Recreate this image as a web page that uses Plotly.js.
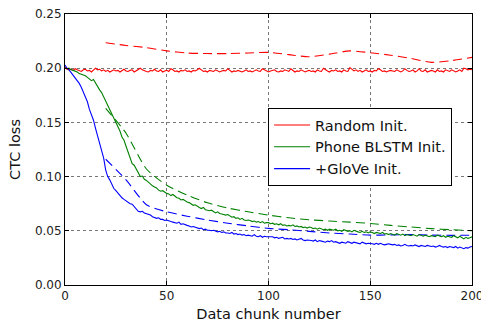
<!DOCTYPE html>
<html>
<head>
<meta charset="utf-8">
<script src="https://cdn.plot.ly/plotly-3.0.1.min.js"></script>
<style>html,body{margin:0;padding:0;background:#fff;}#chart{width:481px;height:323px;}</style>
</head>
<body>
<div id="chart"></div>
<script>
// x positions of the training curves (data chunk number 0..200)
const chunkX = Array.from({length: 201}, (_, i) => i);
// x positions of the dashed (evaluation) curves
const evalX = [20, 30, 40, 50, 60, 70, 80, 90, 100, 110, 120, 130, 140, 150, 160, 170, 180, 190, 200];

const seriesNames = ["Random Init.", "Phone BLSTM Init.", "+GloVe Init."];

const randomTrain = [
0.201,0.199,0.1985,0.199,0.198,0.1995,0.1985,0.198,0.197,0.1985,
0.199,0.1975,0.198,0.1965,0.1985,0.200,0.1985,0.199,0.1975,0.1985,
0.197,0.198,0.1965,0.1975,0.1985,0.1975,0.198,0.1965,0.1975,0.199,
0.1975,0.197,0.198,0.1985,0.1965,0.1975,0.199,0.200,0.1985,0.1975,
0.197,0.1965,0.198,0.1975,0.199,0.1975,0.197,0.1985,0.1965,0.1975,
0.198,0.197,0.1995,0.1985,0.197,0.1975,0.1965,0.198,0.1975,0.1985,
0.197,0.1975,0.1965,0.198,0.1975,0.1985,0.200,0.1985,0.197,0.1975,
0.1965,0.198,0.1975,0.197,0.1985,0.1975,0.1965,0.1975,0.198,0.1975,
0.1995,0.198,0.1965,0.1975,0.197,0.198,0.1975,0.1965,0.1975,0.1985,
0.197,0.1975,0.1965,0.1975,0.1985,0.1975,0.197,0.1995,0.1985,0.1975,
0.1965,0.1975,0.198,0.1985,0.197,0.1965,0.1975,0.197,0.1985,0.1975,
0.197,0.1995,0.198,0.1965,0.1975,0.197,0.1985,0.1975,0.1965,0.1975,
0.198,0.197,0.1975,0.1965,0.1985,0.1975,0.197,0.200,0.1985,0.1975,
0.1965,0.198,0.1975,0.1985,0.197,0.1975,0.1965,0.1985,0.1975,0.197,
0.2005,0.199,0.1975,0.1985,0.197,0.198,0.1965,0.1975,0.1985,0.197,
0.1975,0.1965,0.198,0.1975,0.1995,0.1985,0.197,0.1975,0.1965,0.1975,
0.198,0.1975,0.197,0.1985,0.1975,0.1965,0.1975,0.1995,0.198,0.197,
0.1975,0.1985,0.1965,0.1975,0.1995,0.1975,0.197,0.1985,0.1965,0.1975,
0.198,0.1975,0.1965,0.1985,0.197,0.1975,0.1965,0.1985,0.1975,0.197,
0.1985,0.1975,0.1965,0.1975,0.1985,0.197,0.200,0.1995,0.1985,0.199,0.1985];

const phoneTrain = [
0.200,0.1995,0.200,0.1985,0.198,0.1975,0.1965,0.195,0.1945,0.1935,
0.193,0.1915,0.190,0.1885,0.1895,0.186,0.1835,0.180,0.1775,0.1735,
0.1705,0.166,0.1625,0.157,0.1535,0.150,0.1455,0.142,0.1365,0.1335,
0.128,0.122,0.1175,0.112,0.1105,0.1065,0.1035,0.100,0.1005,0.0975,
0.0965,0.0945,0.0925,0.0915,0.0905,0.0895,0.0875,0.0865,0.087,0.0855,
0.0845,0.084,0.0825,0.0835,0.0815,0.0805,0.080,0.0785,0.079,0.0775,
0.0765,0.076,0.0745,0.0735,0.074,0.0725,0.0715,0.0705,0.0715,0.0695,
0.069,0.0685,0.069,0.0675,0.0665,0.0675,0.066,0.0655,0.065,0.0645,
0.065,0.0635,0.0625,0.063,0.0615,0.062,0.0605,0.0615,0.060,0.0595,
0.060,0.0595,0.0585,0.059,0.058,0.0585,0.0575,0.0585,0.057,0.0575,
0.0575,0.0565,0.057,0.056,0.0565,0.0555,0.0565,0.055,0.0555,0.0545,
0.055,0.0545,0.0555,0.054,0.0545,0.0535,0.054,0.053,0.0535,0.0525,
0.0535,0.053,0.052,0.0525,0.0515,0.0525,0.052,0.051,0.0515,0.0505,
0.0515,0.051,0.0505,0.0515,0.050,0.0505,0.0495,0.051,0.050,0.0495,
0.050,0.049,0.0505,0.0495,0.049,0.0485,0.0495,0.0485,0.049,0.048,
0.049,0.0485,0.0475,0.0485,0.048,0.0475,0.0485,0.047,0.0475,0.0465,
0.0475,0.047,0.046,0.0475,0.0465,0.046,0.047,0.0455,0.0465,0.046,
0.0455,0.0465,0.0455,0.045,0.0465,0.0455,0.045,0.046,0.045,0.0445,
0.0455,0.045,0.0445,0.046,0.045,0.0445,0.0455,0.044,0.045,0.0445,
0.044,0.0455,0.0445,0.0435,0.045,0.0435,0.0425,0.044,0.043,0.0435,0.0445];

const gloveTrain = [
0.203,0.200,0.1985,0.196,0.1945,0.192,0.189,0.186,0.1825,0.178,
0.174,0.169,0.162,0.157,0.152,0.1445,0.138,0.1295,0.1245,0.117,
0.106,0.100,0.097,0.093,0.089,0.087,0.0845,0.082,0.0805,0.079,
0.0775,0.0765,0.075,0.0745,0.0725,0.071,0.068,0.0675,0.068,0.0665,
0.066,0.065,0.0645,0.063,0.0625,0.0615,0.062,0.0605,0.0605,0.0595,
0.060,0.059,0.0585,0.058,0.0575,0.057,0.058,0.056,0.0565,0.0555,
0.055,0.0545,0.0535,0.054,0.0535,0.0525,0.052,0.0525,0.051,0.0515,
0.0505,0.0505,0.050,0.0505,0.0495,0.049,0.0495,0.0485,0.049,0.048,
0.048,0.0475,0.0485,0.047,0.0475,0.0465,0.047,0.046,0.0465,0.0455,
0.046,0.0455,0.045,0.0465,0.045,0.0445,0.0455,0.044,0.045,0.0445,
0.0445,0.044,0.0445,0.0435,0.044,0.043,0.0435,0.044,0.0425,0.043,
0.0425,0.043,0.042,0.0425,0.0415,0.042,0.043,0.0415,0.041,0.0415,
0.0415,0.041,0.0405,0.0415,0.040,0.041,0.0405,0.040,0.0395,0.0405,
0.040,0.041,0.0395,0.040,0.0395,0.0385,0.0395,0.039,0.0385,0.040,
0.039,0.0385,0.0395,0.039,0.0385,0.038,0.0395,0.0385,0.038,0.0385,
0.0385,0.038,0.0375,0.0385,0.0375,0.0385,0.0375,0.037,0.0375,0.038,
0.0375,0.037,0.0375,0.0365,0.037,0.036,0.0365,0.0375,0.0365,0.036,
0.0365,0.036,0.037,0.036,0.0355,0.0365,0.036,0.0355,0.0365,0.036,
0.0355,0.036,0.035,0.0355,0.0365,0.0355,0.035,0.0355,0.0345,0.0355,
0.035,0.0345,0.0355,0.034,0.035,0.0345,0.0335,0.0345,0.034,0.035,0.0355];

const randomEval = [0.2235,0.221,0.219,0.216,0.214,0.2135,0.2135,0.214,0.2146,0.2125,0.2105,0.213,0.216,0.2143,0.212,0.209,0.2054,0.207,0.210];
const phoneEval  = [0.163,0.140,0.107,0.092,0.083,0.0758,0.071,0.0675,0.0645,0.062,0.0602,0.059,0.058,0.0568,0.055,0.0535,0.052,0.051,0.050];
const gloveEval  = [0.116,0.097,0.074,0.0675,0.0635,0.060,0.057,0.0545,0.0522,0.051,0.0495,0.048,0.047,0.046,0.0462,0.0465,0.046,0.0458,0.046];

const colors = ["#ff0000", "#008000", "#0000ff"];
const trainSets = [randomTrain, phoneTrain, gloveTrain];
const evalSets = [randomEval, phoneEval, gloveEval];

const traces = [];
for (let i = 0; i < 3; i++) {
  traces.push({
    x: evalX, y: evalSets[i], mode: "lines", type: "scatter",
    line: {color: colors[i], width: 1.1, dash: "9px,5px", shape: "spline", smoothing: 0.6},
    showlegend: false, hoverinfo: "skip"
  });
}
for (let i = 0; i < 3; i++) {
  traces.push({
    x: chunkX, y: trainSets[i], mode: "lines", type: "scatter", name: seriesNames[i],
    line: {color: colors[i], width: 1.1}
  });
}

const font = "DejaVu Sans, sans-serif";
const layout = {
  width: 481, height: 323,
  margin: {l: 65, r: 9, t: 14, b: 38},
  paper_bgcolor: "#fff", plot_bgcolor: "#fff",
  font: {family: font, size: 12, color: "#222"},
  showlegend: true,
  legend: {
    x: 0.499, y: 0.653, xanchor: "left", yanchor: "top",
    bgcolor: "#fff", bordercolor: "#000", borderwidth: 1,
    font: {family: font, size: 14.5, color: "#111"},
    traceorder: "normal", itemwidth: 36
  },
  xaxis: {
    range: [0, 200], tickvals: [0, 50, 100, 150, 200], ticktext: ["0", "50", "100", "150", "200"],
    ticklabeloverflow: "allow",
    showline: true, linecolor: "#000", linewidth: 1, mirror: "ticks",
    ticks: "inside", ticklen: 4, tickcolor: "#000",
    showgrid: true, gridcolor: "#777", griddash: "dot", gridwidth: 1,
    zeroline: false,
    title: {text: "Data chunk number", font: {family: font, size: 14.5, color: "#111"}, standoff: 6}
  },
  yaxis: {
    range: [0, 0.25], tickvals: [0, 0.05, 0.1, 0.15, 0.2, 0.25], ticktext: ["0.00", "0.05", "0.10", "0.15", "0.20", "0.25"],
    showline: true, linecolor: "#000", linewidth: 1, mirror: "ticks",
    ticks: "inside", ticklen: 4, tickcolor: "#000",
    showgrid: true, gridcolor: "#777", griddash: "dot", gridwidth: 1,
    zeroline: false,
    title: {text: "CTC loss", font: {family: font, size: 14.5, color: "#111"}, standoff: 10}
  }
};

Plotly.newPlot("chart", traces, layout, {displayModeBar: false, staticPlot: true});
</script>
</body>
</html>
